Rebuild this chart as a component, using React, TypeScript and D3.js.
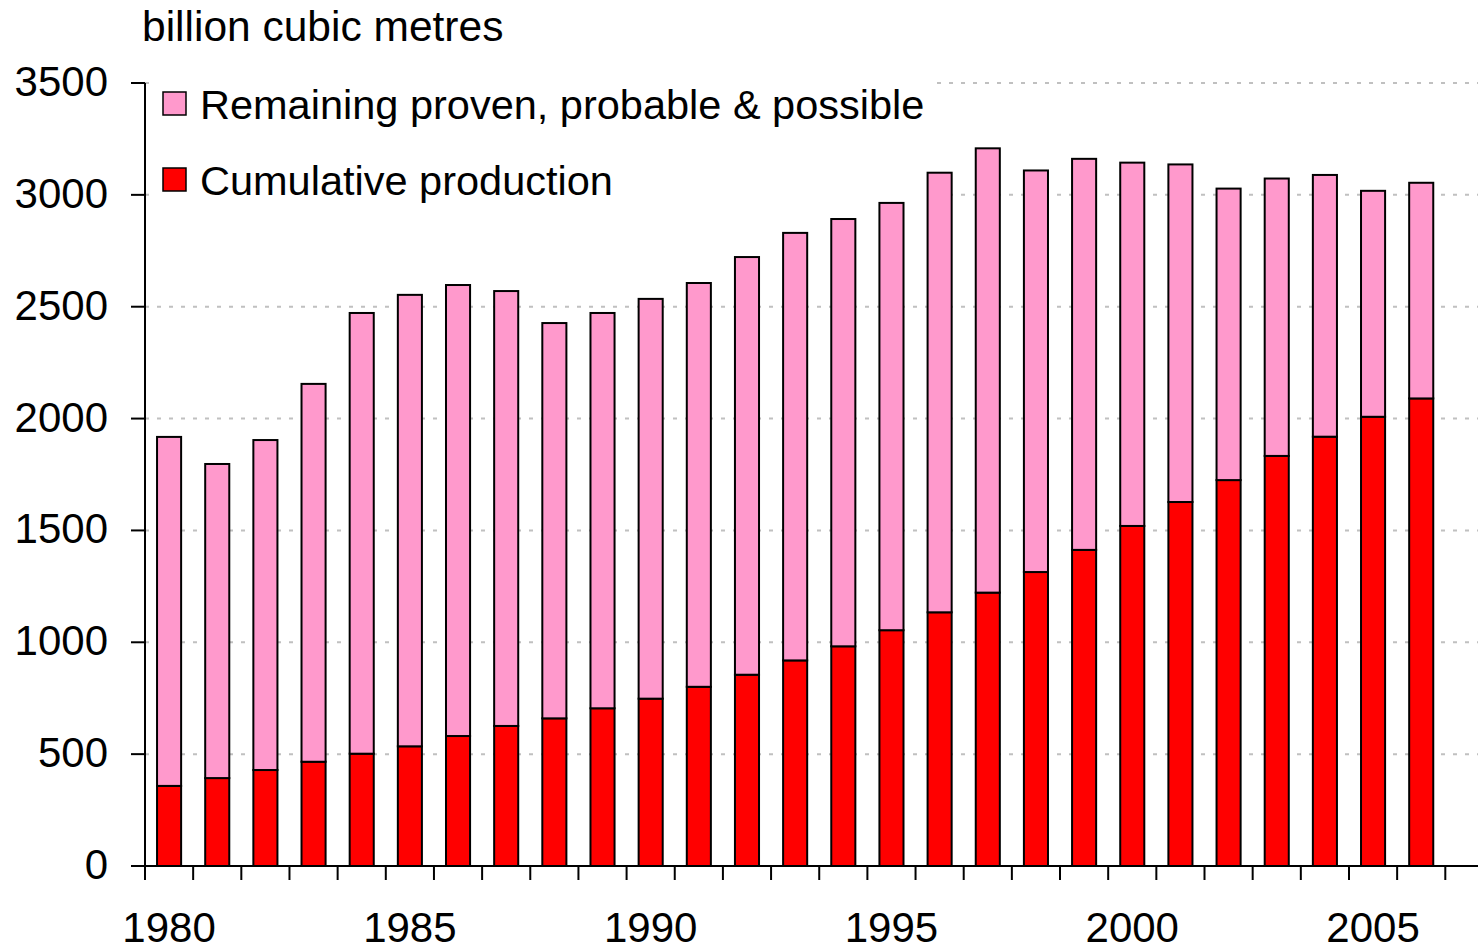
import React from "react";
import * as d3 from "d3";

const years: number[] = d3.range(1980, 2007);
const cumulative: number[] = [358, 393, 429, 466, 502, 535, 581, 626, 660, 705, 748, 801, 855, 919, 982, 1054, 1134, 1222, 1314, 1413, 1520, 1627, 1725, 1833, 1919, 2008, 2090];
const remaining: number[] = [1560, 1404, 1475, 1689, 1970, 2018, 2016, 1944, 1767, 1767, 1787, 1805, 1867, 1911, 1910, 1910, 1965, 1986, 1795, 1748, 1624, 1509, 1303, 1240, 1170, 1010, 964];
const yTicks: number[] = [0, 500, 1000, 1500, 2000, 2500, 3000, 3500];
const xLabelYears: number[] = [1980, 1985, 1990, 1995, 2000, 2005];
const seriesNames = { remaining: "Remaining proven, probable & possible", cumulative: "Cumulative production" };
const colors = { remaining: "#ff99cc", cumulative: "#ff0000" };

const W = 1481, H = 949;
const FONT = "'Liberation Sans', Arial, Helvetica, sans-serif";

export default function App() {
  const left = 145, right = 1445.3, axisEnd = 1478;
  const y0 = 866, yTop = 83;
  const x = d3.scaleBand<number>().domain(years).range([left, right]).paddingInner(0.5).paddingOuter(0.25);
  const y = d3.scaleLinear().domain([0, 3500]).range([y0, yTop]);
  const rows = years.map((yr, i) => ({ year: yr, cumulative: cumulative[i], remaining: remaining[i] }));
  const stacked = d3.stack<any>().keys(["cumulative", "remaining"])(rows);
  const step = x.step();
  const tickXs = d3.range(years.length + 1).map((i) => left + i * step);

  return (
    <svg width={W} height={H} style={{ position: "absolute", left: 0, top: 0, background: "#fff" }} fontFamily={FONT}>
      <rect x={0} y={0} width={W} height={H} fill="#fff" />
      {/* gridlines */}
      {yTicks.filter((t) => t > 0).map((t) => (
        <line key={t} x1={left} x2={axisEnd} y1={y(t)} y2={y(t)} stroke="#c0c0c0" strokeWidth={2} strokeDasharray="4 8" />
      ))}
      {/* legend background (beneath bars) */}
      <rect x={150} y={72} width={786} height={138} fill="#fff" />
      {/* bars */}
      {stacked.map((s) => (
        <g key={s.key} fill={(colors as any)[s.key]}>
          {s.map((d: any, i: number) => (
            <rect key={i} x={x(years[i])!} width={x.bandwidth()} y={y(d[1])} height={y(d[0]) - y(d[1])} stroke="#000" strokeWidth={2} />
          ))}
        </g>
      ))}
      {/* legend */}
      <rect x={163} y={92} width={23} height={23} fill={colors.remaining} stroke="#000" strokeWidth={1.5} />
      <text x={200} y={119} fontSize={41.5} fill="#000">{seriesNames.remaining}</text>
      <rect x={163} y={168} width={23} height={23} fill={colors.cumulative} stroke="#000" strokeWidth={1.5} />
      <text x={200} y={195} fontSize={41.5} fill="#000">{seriesNames.cumulative}</text>
      {/* y axis */}
      <line x1={left} x2={left} y1={yTop} y2={y0} stroke="#000" strokeWidth={2} />
      {yTicks.map((t) => (
        <g key={t}>
          <line x1={131} x2={left} y1={y(t)} y2={y(t)} stroke="#000" strokeWidth={2} />
          <text x={108} y={y(t) + 13} textAnchor="end" fontSize={42} fill="#000">{t}</text>
        </g>
      ))}
      {/* x axis */}
      <line x1={131} x2={axisEnd} y1={y0} y2={y0} stroke="#000" strokeWidth={2} />
      {tickXs.map((tx, i) => (
        <line key={i} x1={tx} x2={tx} y1={y0} y2={y0 + 14} stroke="#000" strokeWidth={2} />
      ))}
      {xLabelYears.map((yr) => (
        <text key={yr} x={x(yr)! + x.bandwidth() / 2} y={942} textAnchor="middle" fontSize={42} fill="#000">{yr}</text>
      ))}
      <text x={142} y={41} fontSize={42.5} fill="#000">billion cubic metres</text>
    </svg>
  );
}
